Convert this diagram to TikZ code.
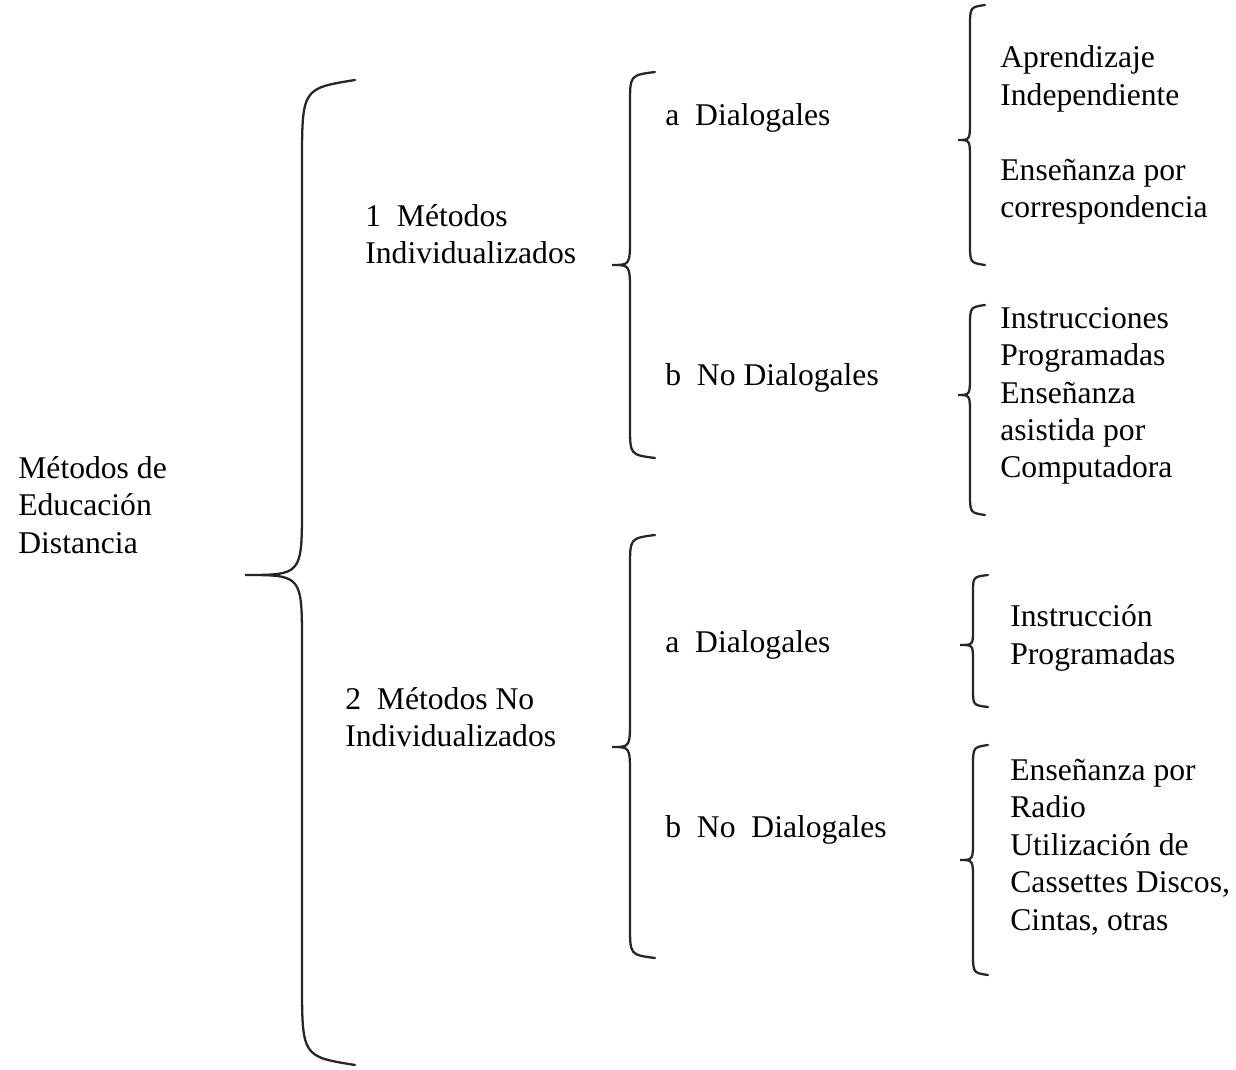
\documentclass[tikz,border=0pt]{standalone}
\usepackage{fontspec}
\setmainfont{Liberation Serif}
\usepackage{tikz}
\usetikzlibrary{calc}

% curly bracket: end x, stem x, tip x, top y, tip y, bottom y, end radius, tip radius
\newcommand{\curly}[8]{%
  \draw[curl] (#1,#4) .. controls (#2,#4+0.1*#7) .. (#2,#4+#7) -- (#2,#5-#8)
    .. controls (#2,#5) .. (#3,#5) .. controls (#2,#5) .. (#2,#5+#8)
    -- (#2,#6-#7) .. controls (#2,#6-0.1*#7) .. (#1,#6);}

\begin{document}
\begin{tikzpicture}[x=0.02cm, y=-0.02cm,
        txt/.style={anchor=west, align=left, inner sep=0pt,
          font=\fontsize{18}{21.3}\selectfont},
        curl/.style={line width=1.3pt, black!85, line cap=round}]

        \useasboundingbox (0,0) rectangle (1236,1070);

        \node[txt] (M)  at (18,505)  {Métodos de\\Educación\\Distancia};

        \node[txt] (I1) at (365,234) {1\enspace Métodos\\Individualizados};
        \node[txt] (I2) at (345,717) {2\enspace Métodos No\\Individualizados};

        \node[txt] (D1) at (665,118) {a\enspace Dialogales};
        \node[txt] (N1) at (665,378) {b\enspace No Dialogales};
        \node[txt] (D2) at (665,645) {a\enspace Dialogales};
        \node[txt] (N2) at (665,830) {b\enspace No\enspace Dialogales};

        \node[txt] (Apr) at (1000,79)  {Aprendizaje\\Independiente};
        \node[txt] (Cor) at (1000,192) {Enseñanza por\\correspondencia};
        \node[txt] (Com) at (1000,396) {Instrucciones\\Programadas\\Enseñanza\\asistida por\\Computadora};
        \node[txt] (Prg) at (1010,638) {Instrucción\\Programadas};
        \node[txt] (Rad) at (1010,847) {Enseñanza por\\Radio\\Utilización de\\Cassettes Discos,\\Cintas, otras};

        % brackets
        \curly{355}{302}{245}{80}{575}{1065}{85}{70}
        \curly{655}{630}{612}{72}{265}{458}{32}{28}
        \curly{655}{630}{612}{535}{747}{958}{32}{28}
        \curly{985}{970}{958}{5}{140}{265}{22}{20}
        \curly{985}{970}{958}{305}{395}{515}{22}{20}
        \curly{988}{973}{960}{575}{645}{707}{18}{16}
        \curly{988}{973}{960}{745}{860}{975}{22}{20}

      \end{tikzpicture}
\end{document}
